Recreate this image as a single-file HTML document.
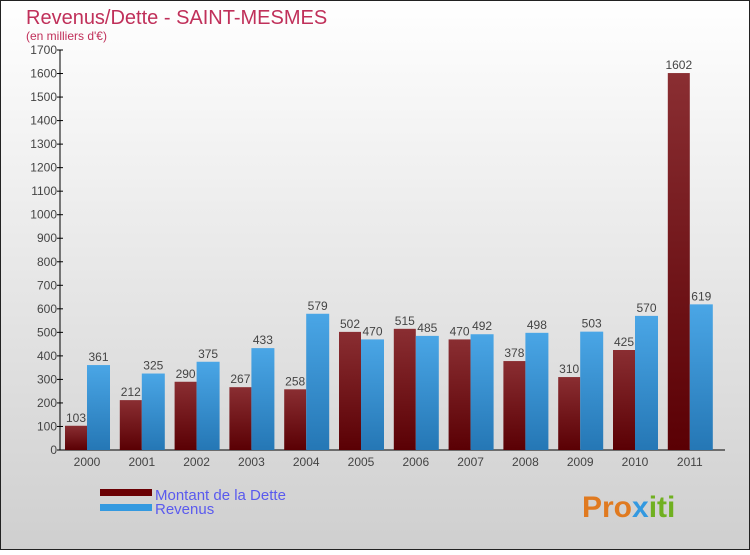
<!DOCTYPE html>
<html><head><meta charset="utf-8"><style>
body{margin:0}
#c{width:750px;height:550px;position:relative;font-family:"Liberation Sans",sans-serif;}
</style></head><body>
<div id="c">
<svg id="s" width="750" height="550" xmlns="http://www.w3.org/2000/svg">
<defs>
<linearGradient id="bg" x1="0" y1="0" x2="0" y2="1"><stop offset="0" stop-color="#ffffff"/><stop offset="1" stop-color="#cfcfcf"/></linearGradient>
<linearGradient id="gd" x1="0" y1="0" x2="0" y2="1"><stop offset="0" stop-color="#8a2e32"/><stop offset="1" stop-color="#5a0004"/></linearGradient>
<linearGradient id="gr" x1="0" y1="0" x2="0" y2="1"><stop offset="0" stop-color="#4aa6e6"/><stop offset="1" stop-color="#2577b5"/></linearGradient>
</defs>
<rect x="0.5" y="0.5" width="749" height="549" fill="url(#bg)" stroke="#222"/>
<text x="26" y="24" font-size="20" fill="#c0305a">Revenus/Dette - SAINT-MESMES</text>
<text x="26" y="40" font-size="12" fill="#c0305a">(en milliers d'€)</text>
<g id="plot"></g>
<g>
<rect x="100" y="489" width="52" height="7" fill="#6a0004"/>
<text x="155" y="500" font-size="15" fill="#5a5aee">Montant de la Dette</text>
<rect x="100" y="504" width="52" height="7" fill="#3399e0"/>
<text x="155" y="514" font-size="15" fill="#5a5aee">Revenus</text>
</g>
<text x="582" y="517" font-size="30" font-weight="bold" fill="#e07a20">Pro<tspan fill="#3399e0">x</tspan><tspan fill="#70b020">iti</tspan></text>
</svg>
</div>
<script>
const categories=["2000","2001","2002","2003","2004","2005","2006","2007","2008","2009","2010","2011"];
const dette=[103,212,290,267,258,502,515,470,378,310,425,1602];
const revenus=[361,325,375,433,579,470,485,492,498,503,570,619];
const yTicks=[0,100,200,300,400,500,600,700,800,900,1000,1100,1200,1300,1400,1500,1600,1700];
const NS="http://www.w3.org/2000/svg";
const g=document.getElementById('plot');
const y=v=>450-v*400/1700;
const xc=i=>87+i*54.8;
function mk(t,a){const e=document.createElementNS(NS,t);for(const k in a)e.setAttribute(k,a[k]);g.appendChild(e);return e;}
const ax=mk('line',{x1:60,y1:50,x2:60,y2:450,stroke:'#000'});


const bx=mk('line',{x1:60,y1:450,x2:725,y2:450,stroke:'#000'});


yTicks.forEach(v=>{
 const l=mk('line',{x1:57,x2:63,y1:y(v),y2:y(v),stroke:'#000'});
 
 
 const t=mk('text',{x:57,y:y(v)+4,'font-size':12,'text-anchor':'end',fill:'#444'});
 t.textContent=v;
 
 
});
categories.forEach((c,i)=>{
 const x=xc(i);
 const t=mk('text',{x:x,y:466,'font-size':12,'text-anchor':'middle',fill:'#444'});
 t.textContent=c;
 
 
 const b1=mk('rect',{x:x-22,y:y(dette[i]),width:22,height:450-y(dette[i]),fill:'url(#gd)'});
 
 
 const b2=mk('rect',{x:x,y:y(revenus[i]),width:23,height:450-y(revenus[i]),fill:'url(#gr)'});
 
 
 const l1=mk('text',{x:x-11,y:y(dette[i])-4,'font-size':12,'text-anchor':'middle',fill:'#444'});
 l1.textContent=dette[i];
 
 
 const l2=mk('text',{x:x+11.5,y:y(revenus[i])-4,'font-size':12,'text-anchor':'middle',fill:'#444'});
 l2.textContent=revenus[i];
 
 
});
</script>
</body></html>
